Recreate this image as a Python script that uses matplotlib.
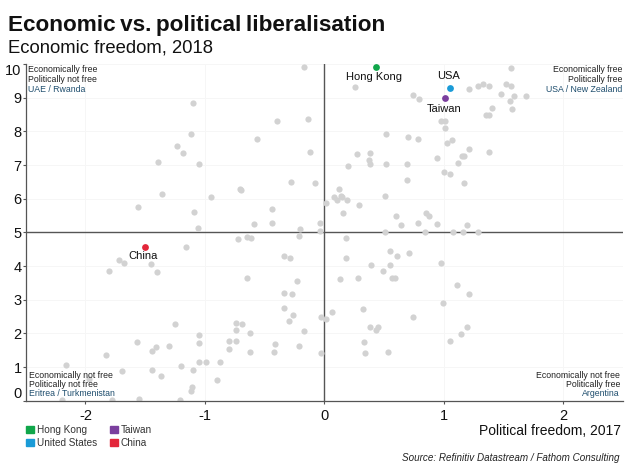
import matplotlib
matplotlib.use('Agg')
import matplotlib.pyplot as plt
from matplotlib.patches import Patch

plt.rcParams['font.family'] = ['Liberation Sans', 'DejaVu Sans']
plt.rcParams['axes.unicode_minus'] = False

# all other countries
other_x = [-0.17,-1.10,-1.12,-1.23,-1.18,-1.39,-1.05,-1.36,-0.95,-1.56,-1.09,-1.06,-0.71,-0.70,-0.40,-0.56,
           -0.14,-0.12,-0.28,-0.08,-0.44,-0.44,-0.59,-0.20,-0.21,-0.04,-0.04,-0.72,-0.65,-0.61,
           1.56,0.26,1.21,1.29,1.33,1.38,1.52,1.56,1.48,1.59,1.69,1.55,1.57,0.74,0.79,1.40,1.35,1.38,
           0.98,1.01,1.01,0.52,0.70,0.78,1.03,1.07,1.21,1.38,0.27,0.38,0.37,0.38,0.52,0.69,0.20,0.94,
           1.15,1.17,1.12,1.00,1.05,1.17,0.69,0.12,0.08,0.11,0.14,0.15,0.19,0.51,0.01,0.29,0.16,0.60,
           0.85,0.88,0.64,0.78,0.94,1.19,0.51,0.84,1.08,1.16,1.29,0.18,
           -1.16,-1.72,-1.68,-1.45,-1.40,-1.80,-0.34,-0.29,-0.65,-0.23,-0.34,-0.27,-0.34,-0.26,-0.30,
           -0.17,-1.25,-0.74,-0.69,-0.74,-0.62,-1.05,-0.80,-0.74,-0.41,-1.05,-1.57,-1.41,-1.44,-1.30,
           -0.80,-0.21,-0.62,-0.42,-1.83,-1.05,-0.99,-0.87,-1.20,-1.10,-1.44,-1.69,-1.37,-0.90,-1.11,
           -1.12,-2.16,-1.97,-1.55,-1.78,-2.20,-1.21,
           0.55,0.61,0.71,0.18,0.39,0.55,0.98,0.49,0.57,0.59,0.28,0.13,1.11,1.21,0.99,0.32,0.06,-0.03,
           0.01,0.74,0.38,0.45,0.43,1.19,1.14,1.05,0.33,0.34,0.53,-0.03]
other_y = [9.91,8.84,7.91,7.55,7.36,7.08,7.02,6.15,6.04,5.74,5.61,5.13,6.28,6.25,8.31,7.76,
           8.36,7.39,6.50,6.48,5.70,5.29,5.26,5.09,4.90,5.29,5.03,4.81,4.87,4.82,
           9.87,9.31,9.27,9.36,9.40,9.34,9.41,9.36,9.10,9.04,9.04,8.89,8.67,9.09,8.97,8.70,8.48,8.49,
           8.32,8.32,8.09,7.92,7.83,7.77,7.66,7.75,7.48,7.40,7.32,7.36,7.14,7.02,7.04,7.02,6.97,7.21,
           7.28,7.27,7.07,6.80,6.74,6.48,6.56,6.29,6.05,5.97,6.07,6.06,5.96,6.09,5.86,5.82,5.58,5.50,
           5.57,5.50,5.23,5.27,5.26,5.22,5.00,5.00,5.00,5.00,5.00,4.84,
           4.57,4.17,4.08,4.06,3.83,3.86,4.30,4.23,3.64,3.55,3.20,3.16,2.75,2.55,2.38,
           2.07,2.27,2.32,2.29,2.09,2.02,1.94,1.78,1.76,1.68,1.70,1.74,1.60,1.49,1.63,
           1.55,1.62,1.45,1.44,1.35,1.16,1.16,1.16,1.04,0.90,0.90,0.89,0.73,0.60,0.40,
           0.29,1.07,0.64,0.06,0.03,0.03,0.03,
           4.45,4.30,4.40,4.23,4.04,4.04,4.09,3.86,3.64,3.64,3.64,3.61,3.45,3.16,2.90,2.73,2.64,2.49,
           2.43,2.50,2.18,2.18,2.11,2.20,1.97,1.77,1.73,1.42,1.45,1.42]

names = ['Hong Kong', 'United States', 'Taiwan', 'China']
hl_x = [0.43, 1.05, 1.01, -1.50]
hl_y = [9.91, 9.30, 9.00, 4.56]
hl_colors = ['#10a64a', '#1a9bd7', '#7b3f9e', '#e3263a']
hl_labels = ['Hong Kong', 'USA', 'Taiwan', 'China']
hl_offsets = [(-2, -10), (-1, 12), (-1, -11), (-2, -9)]

xticks = [-2, -1, 0, 1, 2]
yticks = [0, 1, 2, 3, 4, 5, 6, 7, 8, 9, 10]

W, H = 629, 472


def fx(px):
    return px / W


def fy(py):
    return 1 - py / H


fig = plt.figure(figsize=(W / 100, H / 100), dpi=100)
ax = fig.add_axes([fx(25.7), fy(400.7), (623 - 25.7) / W, (400.7 - 64) / H])
ax.set_xlim(-2.5, 2.5)
ax.set_ylim(0, 10)

ax.grid(color='#f6f6f6', lw=0.7)
ax.set_axisbelow(True)
ax.axhline(5, color='#555555', lw=1.0, zorder=1)
ax.axvline(0, color='#555555', lw=1.0, zorder=1)

ax.scatter(other_x, other_y, s=20, color='#d2d2d2', linewidths=0, zorder=2)
for i in range(len(names)):
    ax.scatter(hl_x[i], hl_y[i], s=24, color=hl_colors[i], linewidths=0, zorder=3)
    ax.annotate(hl_labels[i], (hl_x[i], hl_y[i]), xytext=hl_offsets[i],
                textcoords='offset pixels', ha='center', va='center', fontsize=8, color='#111111', zorder=4)

for s in ['top', 'right']:
    ax.spines[s].set_visible(False)
for s in ['left', 'bottom']:
    ax.spines[s].set_color('#555555')
    ax.spines[s].set_linewidth(0.9)

ax.set_xticks(xticks)
ax.set_yticks(yticks)
ax.tick_params(axis='x', labelsize=10.5, length=2, color='#555555', pad=4, labelcolor='#111111')
ax.tick_params(axis='y', labelsize=10.5, length=2, color='#555555', pad=1, labelcolor='#111111')
# first and last y labels are pushed inside the axis range
ylabels = ax.get_yticklabels()
ylabels[0].set_verticalalignment('bottom')
ylabels[-1].set_verticalalignment('top')

# corner notes
corner_black = '#222222'
corner_blue = '#1f4e6e'
corners = [
    (28, 'left', 'Economically free', 'Politically not free', 'UAE / Rwanda', 70),
    (622, 'right', 'Economically free', 'Politically free', 'USA / New Zealand', 70),
    (29, 'left', 'Economically not free', 'Politically not free', 'Eritrea / Turkmenistan', 375),
    (620, 'right', 'Economically not free', 'Politically free', 'Argentina', 375),
]
for x, ha, l1, l2, l3, y in corners:
    fig.text(fx(x), fy(y), l1, ha=ha, va='center', fontsize=6.3, color=corner_black)
    fig.text(fx(x), fy(y + 9.5), l2, ha=ha, va='center', fontsize=6.3, color=corner_black)
    fig.text(fx(x), fy(y + 19), l3, ha=ha, va='center', fontsize=6.3, color=corner_blue)

fig.text(fx(8), fy(25), 'Economic\u2009vs.\u2009political\u2009liberalisation', fontsize=16.2, fontweight='bold',
         ha='left', va='center', color='#111111')
fig.text(fx(8), fy(48), 'Economic freedom, 2018', fontsize=13.3, ha='left', va='center', color='#111111')
fig.text(fx(621), fy(431), 'Political freedom, 2017', fontsize=10, ha='right', va='center', color='#111111')
fig.text(fx(619), fy(458), 'Source: Refinitiv Datastream / Fathom Consulting', fontsize=7.1, style='italic',
         ha='right', va='center', color='#222222')

handles = [Patch(color=c, label=n) for c, n in zip(hl_colors, names)]
fig.legend(handles=handles, ncols=2, loc='upper left', bbox_to_anchor=(fx(23), fy(422)), frameon=False,
           fontsize=7.2, handlelength=0.8, handleheight=0.8, handletextpad=0.3, labelspacing=0.3,
           columnspacing=1.25, borderpad=0.3, borderaxespad=0, labelcolor='#333333')

fig.savefig('out.png', dpi=100)
